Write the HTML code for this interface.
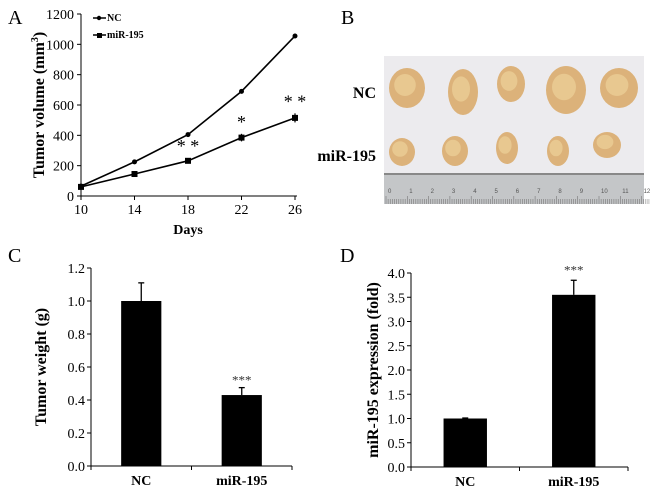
<!DOCTYPE html>
<html><head><meta charset="utf-8"><style>
body{margin:0;background:#fff;width:650px;height:490px;overflow:hidden}
svg{font-family:"Liberation Serif",serif}
</style></head><body>
<svg id="fig" width="650" height="490">
<g id="pA"></g>
<g id="pB"></g>
<g id="pC"></g>
<g id="pD"></g>
</svg>
<script>
const days=[10,14,18,22,26];
const ncVol=[65,225,405,690,1055];
const mirVol=[60,145,232,385,515];
const mirErr=[8,10,18,25,30];
const sigA=["","","**","*","**"];
const yTicksA=[0,200,400,600,800,1000,1200];
const xTicksA=[10,14,18,22,26];
const catsC=["NC","miR-195"];
const weight=[1.0,0.43];
const weightErr=[0.11,0.045];
const sigC=["","***"];
const yTicksC=[0,0.2,0.4,0.6,0.8,1.0,1.2];
const catsD=["NC","miR-195"];
const expr=[1.0,3.55];
const exprErr=[0.01,0.3];
const sigD=["","***"];
const yTicksD=[0,0.5,1.0,1.5,2.0,2.5,3.0,3.5,4.0];

const NS="http://www.w3.org/2000/svg";
function mk(p,t,a,txt){const e=document.createElementNS(NS,t);for(const k in a)e.setAttribute(k,a[k]);if(txt!==undefined)e.textContent=txt;p.appendChild(e);return e;}

// Panel A
(function(){
const g=document.getElementById('pA');
const x0=81,x1=295,y0=196,y1=14;
const sx=d=>x0+(d-10)/(26-10)*(x1-x0);
const sy=v=>y0-v/1200*(y0-y1);
let t=mk(g,'text',{x:8,y:24,'font-size':20},'A');
mk(g,'line',{x1:x0,y1:y1,x2:x0,y2:y0,stroke:'#000'});
mk(g,'line',{x1:x0,y1:y0,x2:x1+2,y2:y0,stroke:'#000'});
yTicksA.forEach(v=>{mk(g,'line',{x1:x0-4,y1:sy(v),x2:x0,y2:sy(v),stroke:'#000'});
 const l=mk(g,'text',{x:x0-7,y:sy(v)+5,'font-size':14,'text-anchor':'end'},v);});
xTicksA.forEach(v=>{mk(g,'line',{x1:sx(v),y1:y0,x2:sx(v),y2:y0+4,stroke:'#000'});
 const l=mk(g,'text',{x:sx(v),y:y0+18,'font-size':14,'text-anchor':'middle'},v);});
t=mk(g,'text',{x:(x0+x1)/2,y:234,'font-size':14,'font-weight':'bold','text-anchor':'middle'},'Days');
t=mk(g,'text',{transform:'translate(44,105) rotate(-90)','font-size':16,'font-weight':'bold','text-anchor':'middle'});
t.innerHTML='Tumor volume (mm<tspan dy="-6" font-size="10">3</tspan><tspan dy="6">)</tspan>';

let p=mk(g,'polyline',{points:days.map((d,i)=>sx(d)+','+sy(ncVol[i])).join(' '),fill:'none',stroke:'#000','stroke-width':1.6});

p=mk(g,'polyline',{points:days.map((d,i)=>sx(d)+','+sy(mirVol[i])).join(' '),fill:'none',stroke:'#000','stroke-width':1.6});

days.forEach((d,i)=>{
 const c=mk(g,'circle',{cx:sx(d),cy:sy(ncVol[i]),r:2.5,fill:'#000'});
 mk(g,'line',{x1:sx(d),y1:sy(mirVol[i]-mirErr[i]),x2:sx(d),y2:sy(mirVol[i]+mirErr[i]),stroke:'#000','stroke-width':1.2});
 const r=mk(g,'rect',{x:sx(d)-3,y:sy(mirVol[i])-3,width:6,height:6,fill:'#000'});
 if(sigA[i]){const s=mk(g,'text',{x:sx(d),y:sy(mirVol[i]+mirErr[i])-6,'font-size':18,'text-anchor':'middle'},sigA[i].split('').join(' '));}
});
// legend
mk(g,'line',{x1:93,y1:18,x2:106,y2:18,stroke:'#000','stroke-width':1.5});mk(g,'circle',{cx:99,cy:18,r:2.2});
t=mk(g,'text',{x:107,y:21,'font-size':10,'font-weight':'bold'},'NC');
mk(g,'line',{x1:93,y1:35,x2:106,y2:35,stroke:'#000','stroke-width':1.5});mk(g,'rect',{x:97,y:33,width:5,height:5});
t=mk(g,'text',{x:107,y:38,'font-size':10,'font-weight':'bold'},'miR-195');
})();

// Panel B (photo approximation)
(function(){
const g=document.getElementById('pB');
let t=mk(g,'text',{x:341,y:24,'font-size':20},'B');
t=mk(g,'text',{x:376,y:98,'font-size':16,'font-weight':'bold','text-anchor':'end'},'NC');
t=mk(g,'text',{x:376,y:161,'font-size':16,'font-weight':'bold','text-anchor':'end'},'miR-195');
mk(g,'rect',{x:384,y:56,width:260,height:148,fill:'#ecebee'});
const top=[[407,88,18,20],[463,92,15,23],[511,84,14,18],[566,90,20,24],[619,88,19,20]];
const bot=[[402,152,13,14],[455,151,13,15],[507,148,11,16],[558,151,11,15],[607,145,14,13]];
top.concat(bot).forEach(b=>{const e=mk(g,'ellipse',{cx:b[0],cy:b[1],rx:b[2],ry:b[3],fill:'#dcb27a'});
 mk(g,'ellipse',{cx:b[0]-2,cy:b[1]-3,rx:b[2]*0.6,ry:b[3]*0.55,fill:'#e8c890'});});
const r=mk(g,'rect',{x:384,y:175,width:260,height:29,fill:'#c4c6c8'});
mk(g,'rect',{x:384,y:173,width:260,height:2,fill:'#888'});
for(let i=0;i<=12;i++){mk(g,'text',{x:388+i*21.3,y:193,'font-size':6,fill:'#555','font-family':'Liberation Sans'},i);}
for(let i=0;i<125;i++){mk(g,'line',{x1:386+i*2.13,y1:204,x2:386+i*2.13,y2:i%10==0?196:199,stroke:'#777','stroke-width':0.6});}
})();

function barChart(id,cats,vals,errs,sig,ticks,cfg){
 const g=document.getElementById(id);
 const sy=v=>cfg.y0-v/cfg.max*(cfg.y0-cfg.y1);
 let t=mk(g,'text',{x:cfg.lx,y:cfg.ly,'font-size':20},cfg.label);
 mk(g,'line',{x1:cfg.x0,y1:cfg.y1,x2:cfg.x0,y2:cfg.y0,stroke:'#000'});
 mk(g,'line',{x1:cfg.x0,y1:cfg.y0,x2:cfg.x1,y2:cfg.y0,stroke:'#000'});
 const bw=(cfg.x1-cfg.x0)/cats.length;
 for(let i=0;i<=cats.length;i++)mk(g,'line',{x1:cfg.x0+i*bw,y1:cfg.y0,x2:cfg.x0+i*bw,y2:cfg.y0+4,stroke:'#000'});
 ticks.forEach(v=>{mk(g,'line',{x1:cfg.x0-4,y1:sy(v),x2:cfg.x0,y2:sy(v),stroke:'#000'});
  const l=mk(g,'text',{x:cfg.x0-6,y:sy(v)+5,'font-size':14,'text-anchor':'end'},v.toFixed(1));});
 cats.forEach((c,i)=>{const cx=cfg.x0+bw*(i+0.5);const w=bw*0.4;
  mk(g,'line',{x1:cx,y1:sy(vals[i]),x2:cx,y2:sy(vals[i]+errs[i]),stroke:'#000','stroke-width':1.3});
  mk(g,'line',{x1:cx-3,y1:sy(vals[i]+errs[i]),x2:cx+3,y2:sy(vals[i]+errs[i]),stroke:'#000','stroke-width':1.3});
  const b=mk(g,'rect',{x:cx-w/2,y:sy(vals[i]),width:w,height:cfg.y0-sy(vals[i]),fill:'#000'});
  const l=mk(g,'text',{x:cx,y:cfg.y0+19,'font-size':14,'font-weight':'bold','text-anchor':'middle'},c);
  if(sig[i]){const s=mk(g,'text',{x:cx,y:sy(vals[i]+errs[i])-3+cfg.sigOff,'font-size':13,'text-anchor':'middle',fill:'#333'},sig[i]);}
 });
 t=mk(g,'text',{transform:`translate(${cfg.tx},${(cfg.y0+cfg.y1)/2}) rotate(-90)`,'font-size':16,'font-weight':'bold','text-anchor':'middle'},cfg.title);
 
}
barChart('pC',catsC,weight,weightErr,sigC,yTicksC,{x0:91,x1:292,y0:466,y1:268,max:1.2,lx:8,ly:262,label:'C',tx:46,title:'Tumor weight (g)',sigOff:0});
barChart('pD',catsD,expr,exprErr,sigD,yTicksD,{x0:411,x1:628,y0:467,y1:273,max:4.0,lx:340,ly:262,label:'D',tx:378,title:'miR-195 expression (fold)',sigOff:-3});
</script>
</body></html>
